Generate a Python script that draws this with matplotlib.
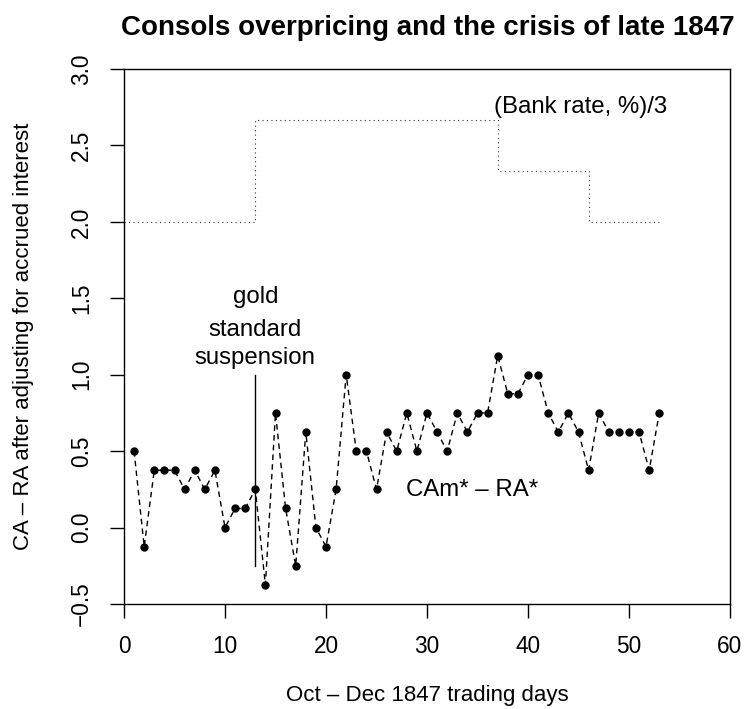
import matplotlib
matplotlib.use("Agg")
import matplotlib.pyplot as plt

plt.rcParams['font.family'] = ['Liberation Sans', 'DejaVu Sans']

# Trading days (Oct - Dec 1847)
days = list(range(1, 54))
# CAm* - RA* (after adjusting for accrued interest)
spread = [0.5, -0.125, 0.375, 0.375, 0.375, 0.25, 0.375, 0.25, 0.375, 0.0,
          0.125, 0.125, 0.25, -0.375, 0.75, 0.125, -0.25, 0.625, 0.0, -0.125,
          0.25, 1.0, 0.5, 0.5, 0.25, 0.625, 0.5, 0.75, 0.5, 0.75,
          0.625, 0.5, 0.75, 0.625, 0.75, 0.75, 1.125, 0.875, 0.875, 1.0,
          1.0, 0.75, 0.625, 0.75, 0.625, 0.375, 0.75, 0.625, 0.625, 0.625,
          0.625, 0.375, 0.75]

# Bank rate (%)/3 as a step function
bank_x = [0, 13, 37, 46, 53]
bank_rate = [6.0, 8.0, 7.0, 6.0, 6.0]

# Gold standard suspension marker
susp_day = 13
susp_range = [-0.25, 1.0]

xticks = [0, 10, 20, 30, 40, 50, 60]
yticks = [-0.5, 0.0, 0.5, 1.0, 1.5, 2.0, 2.5, 3.0]

FS_ANN = 17.3
FS_TICK = 16.3
FS_LAB = 16

fig = plt.figure(figsize=(7.45, 7.09), dpi=100)
ax = fig.add_axes([124/745, 1-604/709, (730-124)/745, (604-69)/709])

bank_third = [b/3 for b in bank_rate]
ax.step(bank_x, bank_third, where='post', color='#333333', lw=0.8,
        linestyle=(0, (1, 3)))

ax.plot(days, spread, color='black', lw=1.0, linestyle=(0, (4, 3)),
        marker='o', markersize=5, markerfacecolor='black', markeredgecolor='black')

ax.plot([susp_day, susp_day], susp_range, color='black', lw=1.0)

ax.text(susp_day, 1.51, "gold", ha='center', va='center', fontsize=FS_ANN)
ax.text(susp_day, 1.29, "standard", ha='center', va='center', fontsize=FS_ANN)
ax.text(susp_day, 1.11, "suspension", ha='center', va='center', fontsize=FS_ANN)
ax.text(45.2, 2.75, "(Bank rate, %)/3", ha='center', va='center', fontsize=FS_ANN)
ax.text(34.5, 0.245, "CAm* – RA*", ha='center', va='center', fontsize=FS_ANN)

ax.set_xlim(0, 60)
ax.set_ylim(-0.5, 3.0)
ax.set_xticks(xticks)
ax.set_xticklabels([str(t) for t in xticks])
ax.set_yticks(yticks)
ax.set_yticklabels([f"{t:.1f}".replace('-', '−') for t in yticks], rotation=90, va='center')
ax.tick_params(direction='out', length=10, width=1, labelsize=FS_TICK, pad=12.5)
for s in ax.spines.values():
    s.set_linewidth(1.0)

fig.text(428/745, 1-28/709, "Consols overpricing and the crisis of late 1847",
         ha='center', va='center', fontsize=20, fontweight='bold')
fig.text(427/745, 1-695/709, "Oct – Dec 1847 trading days",
         ha='center', va='center', fontsize=FS_LAB)
fig.text(24/745, 1-336/709, "CA – RA after adjusting for accrued interest",
         ha='center', va='center', rotation=90, fontsize=FS_LAB)

fig.savefig("out.png", dpi=100)
